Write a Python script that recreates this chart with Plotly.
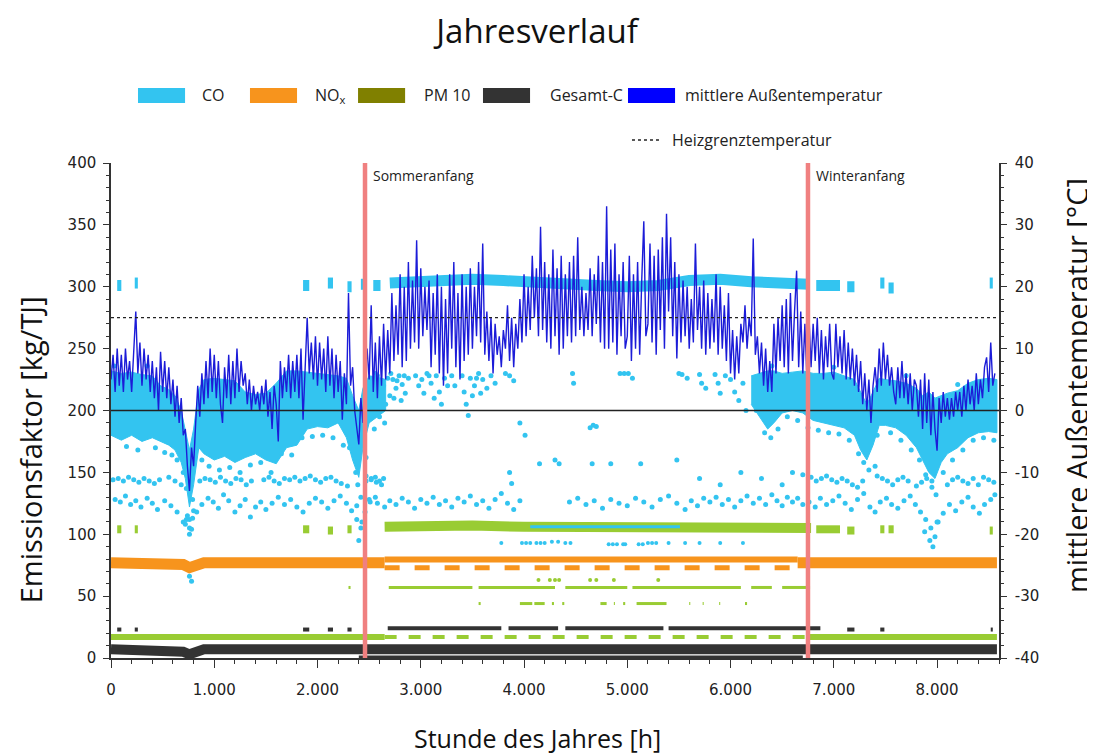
import plotly.graph_objects as go

# ---------------- texts / ticks ----------------
TITLE = "Jahresverlauf"
X_TITLE = "Stunde des Jahres [h]"
Y_TITLE = "Emissionsfaktor [kg/TJ]"
Y2_TITLE = "mittlere Außentemperatur [°C]"
X_TICKS = [0, 1000, 2000, 3000, 4000, 5000, 6000, 7000, 8000]
X_TICK_LABELS = ["0", "1.000", "2.000", "3.000", "4.000", "5.000", "6.000", "7.000", "8.000"]
Y_TICKS = [0, 50, 100, 150, 200, 250, 300, 350, 400]
Y2_TICKS = [-40, -30, -20, -10, 0, 10, 20, 30, 40]
Y2_TICK_LABELS = ["-40", "-30", "-20", "-10", "0", "10", "20", "30", "40"]

HEIZGRENZE_C = 15
NULL_C = 0
SOMMERANFANG_H = 2460
WINTERANFANG_H = 6750
MARKER_LABELS = ["Sommeranfang", "Winteranfang"]

# ---------------- temperature (read every 20 h) ----------------
TEMP_HOURS = list(range(0, 8561, 20))
TEMP_C = [
    5, 9, 3, 10, 4, 9, 3, 10, 5, 8, 3, 9, 16, 6, 11, 4, 10, 5, 9, 3,
    8, 2, 7, 0, 9.5, 3, 8, 2, 7, 1, 5, -1, 4, -2, 2, -4, -3, -9, -13, -6,
    -9, -2, 4, -1, 6, 1, 8, 2, 10, 3,
    9, 2, 8, 1, -2, 7, 2, 9, 1, 8, 2, 10, 3, 8, 4, 6, 1, 5, 0, 4,
    1, 3, 0, 4, 1, 5, -1, 3, -3, 4, 1, -5, 8, 2, 7, 3, 9, 2, 8, 3,
    9, 2, 10, -1.5, 8, 15, 6, 11, 5, 12,
    4, 11, 5, 10, 3, 12, 4, 10, 2, 9, 3, 8, -1.5, 6, 1, 19, 4, 7, 0, -3,
    -5.5, 2, -2, 6, 10, 5, 17, 3, 11, 2, 12, 4, 14, 5, 13, 6, 19, 8, 17, 9,
    22, 7, 20, 8, 24, 10, 21, 11, 27.5, 10,
    23, 12, 20, 13, 21, 7, 19, 9, 22, 6, 20, 4, 18, 6, 22, 10, 24, 7, 19, 5,
    22, 8, 20, 9, 23, 10, 20, 12, 24, 11, 27, 9, 16, 8, 15, 6, 14, 9, 12, 7,
    13, 10, 17, 8, 15, 7, 14, 10, 18, 11,
    22, 12, 20, 13, 25, 15, 23, 12, 29.7, 13, 24, 11, 22, 10, 26, 12, 23, 9, 25, 10,
    22, 12, 24, 11, 25, 12, 28, 13, 20, 12, 19, 13, 23, 12, 22, 14, 25, 11, 24, 10,
    33, 10, 26, 11, 27, 9, 22, 12, 24, 10,
    12, 25, 8, 22, 10, 24, 9, 21, 30.6, 12, 14, 27, 11, 25, 9, 26, 13, 28, 10, 31.8,
    16, 28, 12, 24, 8.4, 22, 11, 21, 12, 20, 10, 18, 11, 27, 13, 20, 10, 21, 9, 19,
    10, 18, 11, 22, 9, 20, 10, 17, 8, 19,
    6, 13, 5, 12, 6, 14, 11, 17, 10, 15, 12, 27.8, 9, 12, 6, 11, 4, 10, 3, 8,
    3, 14, 6, 15, 8, 17, 7, 18, 6, 19, 8, 16, 22.6, 7, 16, 6, 14, 5, 15, 7,
    14, 8, 15, 6, 13, 5, 12, 7, 14, 6,
    5, 14, 7, 12, 6, 13, 5, 11, 5, 10, 4, 9, 3, 8, 1, 6, 0, 5, -2, 4,
    7, 3, 10, 4, 11, 5, 9, 4, 7, 3, 1, 7, 2, 8, 2, 6, 1, 6, 0, 5,
    4, -1, 5, -3, 6, -2, 5, -4, 3, -3,
    -6.5, 2, -2, 3, -1, 2, -1.5, 2, -1, 3, 0, 3, -1, 4, 0, 5, 1, 4, 0, 6,
    1, 5, 2, 7, 8.6, 3, 11, 4, 6,
]

# ---------------- CO ----------------
CO_WA_H = [0, 100, 200, 300, 400, 480, 560, 620, 680, 720, 760, 800, 850, 900, 1000, 1100, 1200,
           1300, 1400, 1500, 1600, 1700, 1800, 1900, 2000, 2100, 2200, 2280, 2340, 2400, 2440, 2500, 2580, 2660]
CO_WA_UP = [232, 230, 231, 229, 228, 220, 217, 212, 200, 185, 168, 185, 217, 225, 226, 225, 224,
            215, 213, 214, 222, 232, 232, 231, 230, 229, 228, 226, 212, 200, 218, 228, 227, 225]
CO_WA_LO = [180, 176, 180, 175, 178, 175, 172, 168, 158, 145, 122, 140, 170, 165, 160, 163, 158,
            162, 165, 160, 157, 170, 172, 185, 187, 186, 190, 178, 160, 146, 170, 190, 195, 200]
CO_WB_H = [6200, 6280, 6360, 6420, 6500, 6600, 6700, 6800, 6900, 7000, 7100, 7200, 7260, 7320, 7380,
           7440, 7500, 7600, 7700, 7800, 7860, 7920, 7980, 8040, 8100, 8200, 8300, 8400, 8500, 8580]
CO_WB_UP = [228, 230, 232, 232, 230, 231, 232, 230, 230, 231, 228, 225, 215, 205, 215,
            226, 225, 224, 222, 218, 212, 215, 210, 212, 214, 216, 222, 225, 226, 225]
CO_WB_LO = [205, 195, 185, 190, 198, 200, 198, 192, 190, 188, 186, 180, 168, 160, 172,
            188, 188, 186, 180, 170, 160, 150, 145, 158, 165, 170, 178, 182, 183, 182]
# loose dots around the edges of the winter clouds
CO_EDGE_POINTS = [
    (30, 236), (150, 171), (260, 168), (350, 236), (430, 170), (520, 166), (590, 164), (640, 160), (700, 150),
    (730, 137), (760, 112), (790, 128), (880, 160), (950, 155), (1050, 152), (1150, 154), (1250, 150),
    (1350, 156), (1450, 158), (1550, 150), (1650, 165), (1750, 164), (1850, 178), (1950, 179), (2050, 180),
    (2150, 178), (2250, 172), (2310, 170), (2370, 150), (2390, 140), (2420, 130), (2470, 162), (2550, 185),
    (6250, 200), (6330, 182), (6390, 178), (6460, 185), (6550, 195), (6650, 192), (6750, 186), (6850, 184),
    (6950, 182), (7050, 181), (7150, 176), (7240, 165), (7290, 158), (7340, 152), (7420, 180), (7550, 182),
    (7650, 176), (7750, 168), (7830, 160), (7890, 148), (7950, 138), (7990, 132), (8060, 150), (8150, 160),
    (8250, 168), (8350, 176), (8450, 178), (8550, 176), (6400, 236), (7000, 235), (7700, 228), (8200, 221),
]

CO_HIGH_SEGMENTS = [
    [(60, 301), (100, 301)], [(230, 303), (260, 303)], [(1860, 301), (1920, 301)],
    [(2100, 303), (2150, 303)], [(2290, 300), (2330, 300)], [(2420, 302), (2450, 302)],
    [(2540, 301), (2610, 301)],
    [(2700, 303), (2900, 304), (3200, 305), (3500, 306), (3800, 305), (4100, 303), (4400, 303),
     (4700, 301), (5000, 300), (5300, 301), (5600, 305), (5900, 306), (6200, 304), (6500, 302), (6760, 302)],
    [(6830, 301), (7060, 301)], [(7130, 300), (7200, 300)], [(7450, 303), (7490, 303)],
    [(7530, 299), (7580, 299)], [(8510, 303), (8540, 303)],
]
CO_MID_POINTS = [
    (2520, 222), (2550, 215), (2580, 228), (2610, 208), (2640, 220), (2680, 226), (2700, 212), (2730, 225),
    (2760, 218), (2790, 228), (2820, 221), (2850, 214), (2880, 226), (2600, 195), (2650, 190), (2950, 228),
    (2980, 220), (3010, 225), (3060, 230), (3100, 222), (3150, 228), (3180, 215), (3200, 205), (3230, 226),
    (3260, 220), (3400, 228), (3420, 215), (3440, 205), (3460, 196), (3480, 226), (3520, 220), (3560, 230),
    (3600, 225), (3640, 218), (3680, 228), (3720, 222), (3820, 230), (3860, 228), (3900, 224), (4470, 230),
    (4480, 222), (4930, 230), (4970, 230), (5010, 230), (5050, 226), (5500, 230), (5530, 229), (5580, 226),
    (5700, 229), (5720, 222), (5760, 218), (5850, 229), (5880, 222), (5900, 214), (5950, 228), (6000, 225),
    (6040, 215), (6080, 208), (6120, 222), (6150, 200),
    (2560, 230), (2620, 224), (2660, 205), (2710, 230), (2740, 210), (2770, 224), (2810, 208), (2840, 228),
    (3030, 214), (3080, 228), (3130, 210), (3300, 228), (3330, 220), (3500, 212), (3540, 226), (3580, 214),
]
CO_ROW_A = [
    (20, 144), (70, 145), (120, 143), (170, 146), (220, 144), (270, 142), (320, 145), (370, 143), (420, 141),
    (470, 144), (560, 146), (620, 143), (680, 140), (860, 143), (910, 145), (960, 144), (1010, 142),
    (1060, 146), (1110, 143), (1160, 141), (1210, 145), (1260, 144), (1310, 140), (1360, 143), (1480, 144),
    (1530, 146), (1580, 143), (1630, 141), (1680, 145), (1730, 144), (1780, 146), (1830, 143), (1880, 145),
    (1930, 147), (1980, 144), (2030, 142), (2080, 145), (2130, 146), (2180, 143), (2230, 141), (2290, 139),
    (2470, 143), (2520, 145), (2570, 142), (2620, 140),
    (6780, 146), (6830, 143), (6880, 145), (6930, 147), (6980, 144), (7030, 142), (7080, 145), (7130, 143),
    (7180, 140), (7230, 138), (7280, 143), (7420, 147), (7470, 145), (7520, 143), (7570, 140), (7620, 144),
    (7670, 146), (7720, 143), (7800, 139), (7850, 142), (7900, 145), (7950, 143), (8100, 140), (8150, 144),
    (8200, 146), (8250, 143), (8300, 141), (8350, 145), (8400, 140), (8450, 146), (8500, 144), (8550, 142),
]
CO_ROW_B = [
    (40, 128), (90, 126), (140, 131), (190, 124), (240, 127), (290, 122), (350, 129), (400, 125), (450, 120),
    (520, 127), (580, 123), (640, 118), (700, 110), (730, 112), (760, 105), (790, 113), (830, 118), (880, 124),
    (940, 129), (990, 126), (1040, 121), (1090, 132), (1140, 127), (1200, 118), (1250, 123), (1300, 128),
    (1350, 114), (1400, 122), (1450, 126), (1500, 120), (1560, 125), (1620, 130), (1680, 124), (1740, 128),
    (1800, 122), (1860, 118), (1920, 125), (1980, 129), (2040, 126), (2100, 121), (2160, 127), (2220, 131),
    (2280, 125), (2330, 119), (2380, 123), (2430, 110), (2460, 118), (2510, 126), (2560, 130),
    (6760, 126), (6820, 122), (6870, 129), (6930, 124), (6990, 127), (7050, 131), (7110, 125), (7170, 120),
    (7230, 128), (7290, 133), (7350, 122), (7400, 118), (7450, 126), (7510, 129), (7560, 124), (7620, 121),
    (7680, 127), (7740, 131), (7790, 124), (7840, 118), (7890, 112), (7940, 105), (7980, 98), (8010, 110),
    (8060, 117), (8120, 124), (8180, 119), (8240, 126), (8300, 130), (8350, 122), (8410, 117), (8460, 124),
    (8520, 128), (8560, 132),
]
CO_SUMMER_LOW = [
    (2470, 147), (2520, 144), (2560, 146), (2600, 143), (2640, 145), (2500, 128), (2580, 125), (2650, 122),
    (2700, 127), (2760, 124), (2820, 129), (2880, 126), (2940, 121), (3000, 128), (3060, 125), (3120, 130),
    (3180, 124), (3240, 127), (3300, 122), (3360, 129), (3420, 126), (3480, 131), (3540, 124), (3600, 127),
    (3660, 121), (3720, 128), (3780, 133), (3840, 125), (3900, 120), (3960, 127), (3860, 150), (3960, 190),
    (4010, 180), (3880, 141), (4150, 157), (4300, 160), (4340, 157), (4440, 126), (4520, 129), (4600, 124),
    (4680, 127), (4760, 121), (4840, 128), (4920, 125), (5000, 123), (5080, 129), (5160, 126), (5240, 122),
    (5320, 128), (5400, 131), (5480, 125), (5560, 120), (5620, 127), (5680, 123), (5740, 129), (5800, 126),
    (5860, 130), (5920, 124), (5980, 128), (6040, 122), (6100, 127), (6160, 131), (6220, 125), (6280, 129),
    (6340, 124), (6400, 132), (6450, 127), (6500, 123), (6550, 130), (6600, 126), (6650, 129), (6700, 124),
    (4660, 157), (4840, 157), (5130, 157), (5480, 160), (4640, 186), (4670, 188), (4700, 187), (5700, 145),
    (5900, 140), (6100, 150), (6300, 145), (6500, 140), (6600, 150), (6700, 148),
    (720, 108), (740, 115), (760, 100), (780, 104), (800, 119), (760, 66), (780, 62), (2380, 112),
    (2400, 95), (2420, 105), (7880, 102), (7930, 95), (7960, 90), (8000, 110), (7400, 155),
]
CO_93_POINTS = [
    (3780, 93), (3980, 93), (4020, 93), (4060, 93), (4120, 93), (4160, 93), (4200, 93), (4270, 94), (4330, 94),
    (4400, 93), (4450, 93), (4820, 92), (4860, 92), (4900, 92), (4960, 92), (4980, 92), (5110, 92), (5150, 92),
    (5200, 93), (5240, 93), (5280, 93), (5400, 93), (5560, 93), (5700, 93), (5900, 93), (6120, 93),
]
CO_LINE_106 = [[(4060, 106), (5510, 106)]]

# ---------------- NOx ----------------
NOX_BAND = [[(0, 77), (620, 77), (700, 75.5), (760, 73), (830, 76), (900, 77), (2650, 77)],
            [(6650, 77), (8580, 77)]]
NOX_SUMMER_UP = [[(2650, 79.5), (6650, 79.5)]]
NOX_SUMMER_LO = [[(2650, 73), (6650, 73)]]

# ---------------- PM 10 ----------------
PM_BAND_107 = [[(2650, 106), (3000, 107), (3500, 107), (4000, 106), (4500, 106), (5000, 107),
                (5500, 106), (6000, 106), (6500, 105), (6780, 105)]]
PM_CLUSTERS_104 = [
    [(60, 104), (100, 104)], [(230, 104), (260, 104)], [(1860, 104), (1920, 104)], [(2100, 103), (2150, 103)],
    [(2290, 104), (2330, 104)], [(6830, 104), (7060, 104)], [(7130, 103), (7200, 103)],
    [(7450, 104), (7490, 104)], [(7530, 104), (7580, 104)], [(8510, 103), (8540, 103)],
]
PM_17_WINTER = [[(0, 17), (2650, 17)], [(6750, 17), (8580, 17)]]
PM_17_SUMMER = [[(2650, 17), (6750, 17)]]
PM_57 = [[(2690, 57), (3500, 57)], [(3560, 57), (4300, 57)], [(4400, 57), (5000, 57)],
         [(5050, 57), (6100, 57)], [(6200, 57), (6400, 57)], [(6500, 57), (6770, 57)],
         [(2300, 57), (2320, 57)]]
PM_44 = [[(3560, 44), (3580, 44)], [(3960, 44), (4080, 44)], [(4100, 44), (4200, 44)],
         [(4270, 44), (4290, 44)], [(4370, 44), (4390, 44)], [(4740, 44), (4800, 44)],
         [(4870, 44), (4880, 44)], [(4960, 44), (4980, 44)], [(5090, 44), (5380, 44)],
         [(5600, 44), (5610, 44)], [(5730, 44), (5740, 44)], [(5890, 44), (5900, 44)],
         [(6140, 44), (6160, 44)]]
PM_63_POINTS = [(4140, 63), (4250, 63), (4300, 63), (4340, 63), (4640, 63), (4700, 63), (4870, 63), (5300, 63)]

# ---------------- Gesamt-C ----------------
GC_BAND = [[(0, 7), (620, 7), (700, 5), (760, 3), (830, 5), (900, 7), (8580, 7)]]
GC_24 = [[(2680, 24), (3780, 24)], [(3850, 24), (4330, 24)], [(4400, 24), (5350, 24)], [(5400, 24), (6870, 24)],
         [(60, 23), (100, 23)], [(230, 23), (260, 23)], [(1860, 23), (1920, 23)], [(2100, 23), (2150, 23)],
         [(2290, 23), (2330, 23)], [(7130, 23), (7200, 23)], [(7450, 23), (7490, 23)], [(8520, 23), (8540, 23)]]
GC_0 = [[(2400, 0.8), (6700, 0.8)]]

# ---------------- colours ----------------
C_CO = "#33c4f0"
C_NOX = "#f7941d"
C_PM = "#99cc33"
C_PM_LEG = "#808000"
C_GC = "#333333"
C_T = "#1c1cd8"
C_T_LEG = "#0000ff"
C_RED = "#f08080"


def seg_xy(segments):
    xs, ys = [], []
    for i, seg in enumerate(segments):
        if i:
            xs.append(None)
            ys.append(None)
        for h, v in seg:
            xs.append(h)
            ys.append(v)
    return xs, ys


def pts_xy(points):
    return [p[0] for p in points], [p[1] for p in points]


fig = go.Figure()


def add_line(segments, color, width, dash="solid", yaxis="y"):
    x, y = seg_xy(segments)
    fig.add_trace(go.Scatter(x=x, y=y, mode="lines", line=dict(color=color, width=width, dash=dash),
                             yaxis=yaxis, showlegend=False, hoverinfo="skip"))


def add_pts(points, color, size):
    x, y = pts_xy(points)
    fig.add_trace(go.Scatter(x=x, y=y, mode="markers", marker=dict(color=color, size=size, line=dict(width=0)),
                             showlegend=False, hoverinfo="skip"))


# CO clouds
for H, UP, LO in [(CO_WA_H, CO_WA_UP, CO_WA_LO), (CO_WB_H, CO_WB_UP, CO_WB_LO)]:
    fig.add_trace(go.Scatter(x=H + H[::-1], y=UP + LO[::-1], mode="lines", fill="toself",
                             fillcolor=C_CO, line=dict(color=C_CO, width=1),
                             showlegend=False, hoverinfo="skip"))
add_pts(CO_EDGE_POINTS, C_CO, 5)
add_line(CO_HIGH_SEGMENTS, C_CO, 11)
add_pts(CO_MID_POINTS, C_CO, 5)
add_pts(CO_ROW_A, C_CO, 5)
add_pts(CO_ROW_B, C_CO, 5)
add_pts(CO_SUMMER_LOW, C_CO, 5)
add_pts(CO_93_POINTS, C_CO, 4)

# PM10
add_line(PM_BAND_107, C_PM, 10)
add_line(PM_CLUSTERS_104, C_PM, 8)
add_line(PM_57, C_PM, 3)
add_line(PM_44, C_PM, 3)
add_pts(PM_63_POINTS, C_PM, 4)
add_line(CO_LINE_106, C_CO, 3)

# NOx
add_line(NOX_BAND, C_NOX, 11)
add_line(NOX_SUMMER_UP, C_NOX, 6)
add_line(NOX_SUMMER_LO, C_NOX, 5, dash="dash")

# PM10 17 line
add_line(PM_17_WINTER, C_PM, 6)
add_line(PM_17_SUMMER, C_PM, 4, dash="dash")

# Gesamt-C
add_line(GC_BAND, C_GC, 10)
add_line(GC_24, C_GC, 4)
add_line(GC_0, C_GC, 3)

# temperature
fig.add_trace(go.Scatter(x=TEMP_HOURS, y=TEMP_C, mode="lines", line=dict(color=C_T, width=1.4),
                         yaxis="y2", showlegend=False, hoverinfo="skip"))

# reference lines
fig.add_shape(type="line", xref="x domain", yref="y2", x0=0, x1=1, y0=NULL_C, y1=NULL_C,
              line=dict(color="#222222", width=1.3))
fig.add_shape(type="line", xref="x domain", yref="y2", x0=0, x1=1, y0=HEIZGRENZE_C, y1=HEIZGRENZE_C,
              line=dict(color="#222222", width=1.2, dash="dot"))
for h, label in zip([SOMMERANFANG_H, WINTERANFANG_H], MARKER_LABELS):
    fig.add_shape(type="line", xref="x", yref="paper", x0=h, x1=h, y0=0, y1=1,
                  line=dict(color=C_RED, width=4.5), layer="above")
    fig.add_annotation(x=h, y=0.975, xref="x", yref="paper", text=label, showarrow=False,
                       xanchor="left", yanchor="middle", xshift=6,
                       font=dict(family="Open Sans", size=14, color="#222222"))

# legend (custom, top)
LEGEND_ITEMS = [("CO", C_CO, 0.0304, 0.1002), ("NO<sub>x</sub>", C_NOX, 0.1565, 0.2275),
                ("PM 10", C_PM_LEG, 0.2782, 0.3502), ("Gesamt-C", C_GC, 0.4189, 0.4921),
                ("mittlere Außentemperatur", C_T_LEG, 0.5822, 0.6441)]
for text, col, x0, tx in LEGEND_ITEMS:
    fig.add_shape(type="rect", xref="paper", yref="paper", x0=x0, x1=x0 + 0.053, y0=1.121, y1=1.1515,
                  fillcolor=col, line=dict(width=0))
    fig.add_annotation(x=tx, y=1.1364, xref="paper", yref="paper", text=text, showarrow=False,
                       xanchor="left", yanchor="middle",
                       font=dict(family="Open Sans", size=16, color="#222222"))
fig.add_shape(type="line", xref="paper", yref="paper", x0=0.5867, x1=0.6182, y0=1.0465, y1=1.0465,
              line=dict(color="#222222", width=1.5, dash="dot"))
fig.add_annotation(x=0.6295, y=1.0465, xref="paper", yref="paper", text="Heizgrenztemperatur",
                   showarrow=False, xanchor="left", yanchor="middle",
                   font=dict(family="Open Sans", size=16, color="#222222"))

# axis titles
fig.add_annotation(x=0.48, y=-0.161, xref="paper", yref="paper", text=X_TITLE, showarrow=False,
                   xanchor="center", yanchor="middle", font=dict(family="Open Sans", size=25, color="#111111"))
fig.add_annotation(x=-0.091, y=0.42, xref="paper", yref="paper", text=Y_TITLE, showarrow=False,
                   textangle=-90, xanchor="center", yanchor="middle",
                   font=dict(family="Open Sans", size=29, color="#111111"))
fig.add_annotation(x=1.087, y=0.55, xref="paper", yref="paper", text=Y2_TITLE, showarrow=False,
                   textangle=-90, xanchor="center", yanchor="middle",
                   font=dict(family="Open Sans", size=29, color="#111111"))

tickfont = dict(family="DejaVu Sans", size=15, color="#222222")
axis_common = dict(showline=True, linecolor="#333333", linewidth=1.5, showgrid=False, zeroline=False,
                   ticks="outside", tickcolor="#333333", tickfont=tickfont)

# the page body has an 8 px margin, so the figure is 8 px smaller and its margins shifted
fig.update_layout(
    width=1087, height=748,
    margin=dict(l=103, r=96, t=155, b=98),
    paper_bgcolor="white", plot_bgcolor="white",
    title=dict(text=TITLE, x=0.4867, xref="container", xanchor="center", y=0.969, yanchor="middle",
               font=dict(family="Open Sans", size=33, color="#111111")),
    xaxis=dict(range=[0, 8600], tickmode="array", tickvals=X_TICKS, ticktext=X_TICK_LABELS,
               ticklen=8, ticklabelstandoff=9,
               minor=dict(tickmode="linear", tick0=0, dtick=200, ticks="outside", ticklen=4,
                          tickcolor="#333333"),
               **axis_common),
    yaxis=dict(range=[0, 400], tickmode="array", tickvals=Y_TICKS, ticklen=6, ticklabelstandoff=4,
               minor=dict(tickmode="linear", tick0=0, dtick=10, ticks="outside", ticklen=3,
                          tickcolor="#333333"),
               **axis_common),
    yaxis2=dict(range=[-40, 40], overlaying="y", side="right", tickmode="array", tickvals=Y2_TICKS,
                ticktext=Y2_TICK_LABELS, ticklen=6, ticklabelstandoff=5,
                minor=dict(tickmode="linear", tick0=0, dtick=2, ticks="outside", ticklen=3,
                           tickcolor="#333333"),
                **axis_common),
)

fig.write_html("out.html")
